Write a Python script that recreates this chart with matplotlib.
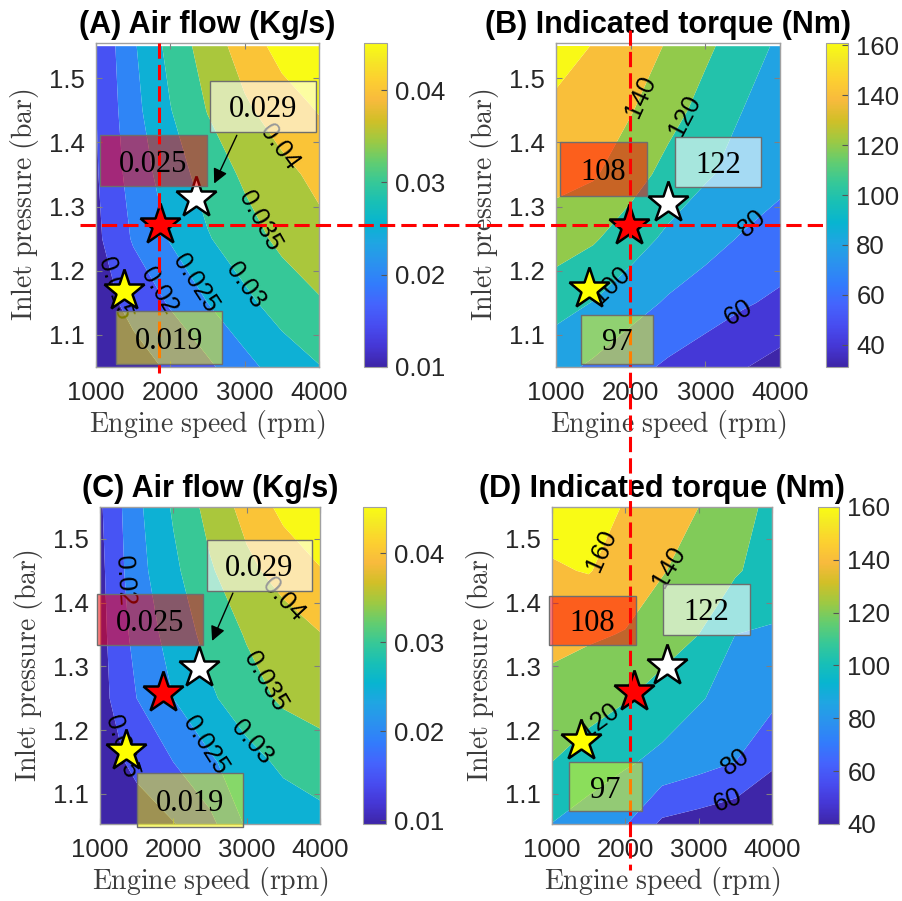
import numpy as np
import matplotlib
matplotlib.use("Agg")
import matplotlib.pyplot as plt
from matplotlib.colors import LinearSegmentedColormap, Normalize, to_rgba
from matplotlib.cm import ScalarMappable
from matplotlib.patches import Rectangle, FancyArrowPatch
from matplotlib.lines import Line2D

plt.rcParams['font.family'] = ['Liberation Sans', 'DejaVu Sans']
plt.rcParams['mathtext.fontset'] = 'cm'

# MATLAB parula (rows 1,5,9,...,61,64 of the 64 colour table)
parula_rows = [1, 5, 9, 13, 17, 21, 25, 29, 33, 37, 41, 45, 49, 53, 57, 61, 64]
parula_rgb = [(0.2422, 0.1504, 0.6603), (0.2706, 0.2147, 0.8364), (0.2813, 0.3006, 0.9414),
              (0.2699, 0.3892, 0.9906), (0.1963, 0.4847, 0.9892), (0.1687, 0.5703, 0.9359),
              (0.1248, 0.6459, 0.8883), (0.0297, 0.7082, 0.8163), (0.0964, 0.7500, 0.7120),
              (0.2161, 0.7843, 0.5923), (0.3909, 0.8029, 0.4354), (0.6174, 0.7876, 0.2612),
              (0.8203, 0.7498, 0.1535), (0.9728, 0.7298, 0.2394), (0.9892, 0.8136, 0.1885),
              (0.9597, 0.9135, 0.1423), (0.9769, 0.9839, 0.0805)]
parula = LinearSegmentedColormap.from_list(
    'parula', [((r - 1) / 63, c) for r, c in zip(parula_rows, parula_rgb)])

# grid (rows = pressure, cols = speed)
speed_grid = [1000, 1500, 2000, 2500, 3000, 3500, 4000]
pressure_grid = [1.05, 1.15, 1.25, 1.35, 1.45, 1.55]

airflow_a = [[0.0115, 0.0130, 0.0157, 0.0190, 0.0235, 0.0272, 0.0298],
             [0.0127, 0.0165, 0.0205, 0.0250, 0.0288, 0.0322, 0.0345],
             [0.0139, 0.0205, 0.0254, 0.0296, 0.0330, 0.0361, 0.0385],
             [0.0145, 0.0221, 0.0275, 0.0321, 0.0358, 0.0386, 0.0413],
             [0.0149, 0.0234, 0.0298, 0.0352, 0.0392, 0.0424, 0.0453],
             [0.0153, 0.0243, 0.0316, 0.0374, 0.0422, 0.0469, 0.0490]]
torque_b = [[86, 76.8, 66.3, 56.9, 49.1, 41.2, 33],
            [107.5, 99.3, 88, 77.7, 70, 62.3, 56],
            [130, 122.3, 108.9, 96.1, 87.1, 78.3, 72],
            [146, 142, 128.9, 113.3, 102.2, 93.3, 85],
            [156, 148.6, 141.2, 127.5, 113.3, 100, 86.7],
            [168, 159.2, 149.1, 138.5, 123.8, 110, 96.4]]
airflow_c = [[0.0110, 0.0125, 0.0146, 0.0185, 0.0255, 0.0270, 0.0280],
             [0.0125, 0.0162, 0.0200, 0.0242, 0.0281, 0.0310, 0.0330],
             [0.0132, 0.0200, 0.0250, 0.0292, 0.0329, 0.0358, 0.0368],
             [0.0134, 0.0218, 0.0270, 0.0317, 0.0354, 0.0376, 0.0398],
             [0.0137, 0.0232, 0.0289, 0.0344, 0.0388, 0.0419, 0.0447],
             [0.0143, 0.0238, 0.0306, 0.0368, 0.0417, 0.0463, 0.0490]]
torque_d = [[99, 89.5, 80, 55, 50, 45, 41],
            [120, 111.3, 102.6, 94.8, 87.4, 80, 63],
            [134, 127.6, 121.3, 111.8, 101.6, 93.1, 85],
            [145, 142.5, 139, 129.5, 120, 100, 98],
            [158, 161, 151.1, 141.2, 131.8, 122.4, 110],
            [168, 164, 159.4, 149.7, 140, 127.7, 115.5]]

airflow_levels = [0.015, 0.02, 0.025, 0.03, 0.035, 0.04, 0.045]
torque_levels = [40, 60, 80, 100, 120, 140, 160]

# operating points (yellow, red, white stars)
star_colors = ['yellow', 'red', 'white']
star_speed_a = [1377, 1861, 2345]
star_press_a = [1.168, 1.271, 1.313]
star_speed_b = [1442, 1980, 2500]
star_press_b = [1.172, 1.269, 1.305]
star_speed_c = [1355, 1859, 2350]
star_press_c = [1.167, 1.258, 1.297]
star_speed_d = [1395, 2118, 2568]
star_press_d = [1.183, 1.260, 1.300]

# boxed values (red, white, yellow boxes)
box_text_air = ['0.025', '0.029', '0.019']
box_text_torque = ['108', '122', '97']
box_colors = ['red', 'white', 'yellow']
box_alpha = [0.5, 0.6, 0.5]

# contour label spots (level, speed, pressure)
labels_a = [(0.015, 1230, 1.172), (0.02, 1820, 1.168), (0.025, 2372, 1.183),
            (0.03, 3004, 1.177), (0.035, 3165, 1.276), (0.04, 3316, 1.381)]
labels_b = [(140, 2098, 1.473), (120, 2727, 1.442), (100, 1763, 1.174),
            (80, 3625, 1.275), (60, 3490, 1.127)]
labels_c = [(0.02, 1230, 1.434), (0.04, 3360, 1.39), (0.035, 3250, 1.276),
            (0.03, 3115, 1.187), (0.025, 2455, 1.177), (0.015, 1205, 1.172)]
labels_d = [(160, 1768, 1.477), (140, 2586, 1.456), (120, 1750, 1.197),
            (80, 3605, 1.137), (60, 3428, 1.077)]

op_pressure = 1.272
op_speed_a = 1852
op_speed_b = 1991

fig = plt.figure(figsize=(9.03, 9.01), dpi=100)


def draw_panel(pos, cpos, z, levels, lims, cticks, cfmt, title, ylim, labels, fmt, sx, sy):
    ax = fig.add_axes(pos)
    cax = fig.add_axes(cpos)
    z = np.array(z)
    norm = Normalize(*lims)
    band_vals = [lims[0]] + levels
    fill_levels = [min(z.min(), lims[0]) - 1] + levels + [z.max() + 1]
    ax.contourf(speed_grid, pressure_grid, z, levels=fill_levels,
                colors=[parula(norm(v)) for v in band_vals], antialiased=True)
    for lev, x, y in labels:
        cs = ax.contour(speed_grid, pressure_grid, z, levels=[lev], colors='k', linewidths=0)
        ax.clabel(cs, fmt=fmt, manual=[(x, y)], inline=False, fontsize=18.5)
    for x, y, c in zip(sx, sy, star_colors):
        ax.plot(x, y, marker='*', ms=31, mfc=c, mec='k', mew=1.8, ls='none', zorder=5)
    ax.set_xlim(1000, 4000)
    ax.set_ylim(*ylim)
    ax.set_xticks([1000, 2000, 3000, 4000])
    ax.set_yticks([1.1, 1.2, 1.3, 1.4, 1.5])
    ax.tick_params(direction='in', length=4, width=0.8, color='#808080',
                   labelcolor='#262626', labelsize=18.5, top=True, right=True)
    ax.tick_params(axis='x', pad=10)
    ax.tick_params(axis='y', pad=8)
    for s in ax.spines.values():
        s.set_color('#a0a0a0')
        s.set_linewidth(1)
    ax.set_title(title, fontsize=22, fontweight='bold', pad=7)
    ax.set_xlabel(r'$\mathrm{Engine\ speed\ (rpm)}$', fontsize=20, color='#3c3c3c', labelpad=2)
    ax.set_ylabel(r'$\mathrm{Inlet\ pressure\ (bar)}$', fontsize=20, color='#3c3c3c', labelpad=6)

    cb = fig.colorbar(ScalarMappable(norm=norm, cmap=parula), cax=cax, ticks=cticks, format=cfmt)
    cb.outline.set_edgecolor('#a0a0a0')
    cax.tick_params(direction='in', length=4, color='#555555', labelcolor='#262626',
                    labelsize=18.5, pad=6)
    return ax


def air_fmt(v):
    return f'{v:g}'


air_ticks = [0.01, 0.02, 0.03, 0.04]
tq_ticks = [40, 60, 80, 100, 120, 140, 160]

ax_a = draw_panel([0.1063, 0.5927, 0.2470, 0.3596], [0.4031, 0.5927, 0.0255, 0.3596],
                  airflow_a, airflow_levels, (0.01, 0.0451), air_ticks, '%.2f',
                  '(A) Air flow (Kg/s)', (1.05, 1.555), labels_a, air_fmt,
                  star_speed_a, star_press_a)
ax_b = draw_panel([0.6157, 0.5927, 0.2481, 0.3596], [0.9147, 0.5927, 0.0244, 0.3596],
                  torque_b, torque_levels, (31, 161), tq_ticks, '%d',
                  '(B) Indicated torque (Nm)', (1.05, 1.555), labels_b, '%d',
                  star_speed_b, star_press_b)
ax_c = draw_panel([0.1107, 0.0855, 0.2436, 0.3518], [0.4020, 0.0855, 0.0255, 0.3518],
                  airflow_c, airflow_levels, (0.0096, 0.0452), air_ticks, '%.2f',
                  '(C) Air flow (Kg/s)', (1.053, 1.55), labels_c, air_fmt,
                  star_speed_c, star_press_c)
ax_d = draw_panel([0.6113, 0.0855, 0.2436, 0.3518], [0.9059, 0.0855, 0.0233, 0.3518],
                  torque_d, torque_levels, (40, 160), tq_ticks, '%d',
                  '(D) Indicated torque (Nm)', (1.053, 1.55), labels_d, '%d',
                  star_speed_d, star_press_d)


def to_fig(ax, x, y):
    return fig.transFigure.inverted().transform(ax.transData.transform((x, y)))


# red dashed guide lines through the operating point
dash = dict(color='red', lw=2.2, ls=(0, (5, 2)), zorder=5)
hy = to_fig(ax_a, 1000, op_pressure)[1]
fig.add_artist(Line2D([80 / 903, 826 / 903], [hy, hy], transform=fig.transFigure, **dash))
vxa = to_fig(ax_a, op_speed_a, 1.3)[0]
fig.add_artist(Line2D([vxa, vxa], [1 - 43 / 901, 1 - 373 / 901], transform=fig.transFigure, **dash))
vxb = to_fig(ax_b, op_speed_b, 1.3)[0]
fig.add_artist(Line2D([vxb, vxb], [1 - 30 / 901, 1 - 870 / 901], transform=fig.transFigure, **dash))

# value boxes
boxes_a = [(1054, 2493, 1.332, 1.411), (2533, 3959, 1.417, 1.496), (1269, 2695, 1.054, 1.137)]
boxes_b = [(1054, 2218, 1.317, 1.400), (2593, 3745, 1.331, 1.408), (1335, 2299, 1.055, 1.131)]
boxes_c = [(959, 2405, 1.333, 1.413), (2459, 3892, 1.419, 1.498), (1505, 2950, 1.048, 1.133)]
boxes_d = [(959, 2146, 1.334, 1.411), (2514, 3701, 1.350, 1.429), (1232, 2228, 1.073, 1.150)]


def add_boxes(ax, boxes, texts):
    for (x0, x1, y0, y1), t, c, a in zip(boxes, texts, box_colors, box_alpha):
        fig.add_artist(Rectangle((x0, y0), x1 - x0, y1 - y0, transform=ax.transData,
                                 facecolor=to_rgba(c, a), edgecolor='#6e6e6e', lw=1, zorder=6))
        fig.text((x0 + x1) / 2, (y0 + y1) / 2, t, transform=ax.transData, ha='center',
                 va='center_baseline', fontsize=22, family='Liberation Serif', zorder=7)


add_boxes(ax_a, boxes_a, box_text_air)
add_boxes(ax_b, boxes_b, box_text_torque)
add_boxes(ax_c, boxes_c, box_text_air)
add_boxes(ax_d, boxes_d, box_text_torque)

for ax, (p0, p1) in [(ax_a, ((2910, 1.415), (2574, 1.332))),
                     (ax_c, ((2828, 1.419), (2514, 1.336)))]:
    fig.add_artist(FancyArrowPatch(p0, p1, transform=ax.transData, arrowstyle='-|>',
                                   mutation_scale=22, color='k', lw=1, zorder=7))

fig.savefig('out.png', dpi=100)
